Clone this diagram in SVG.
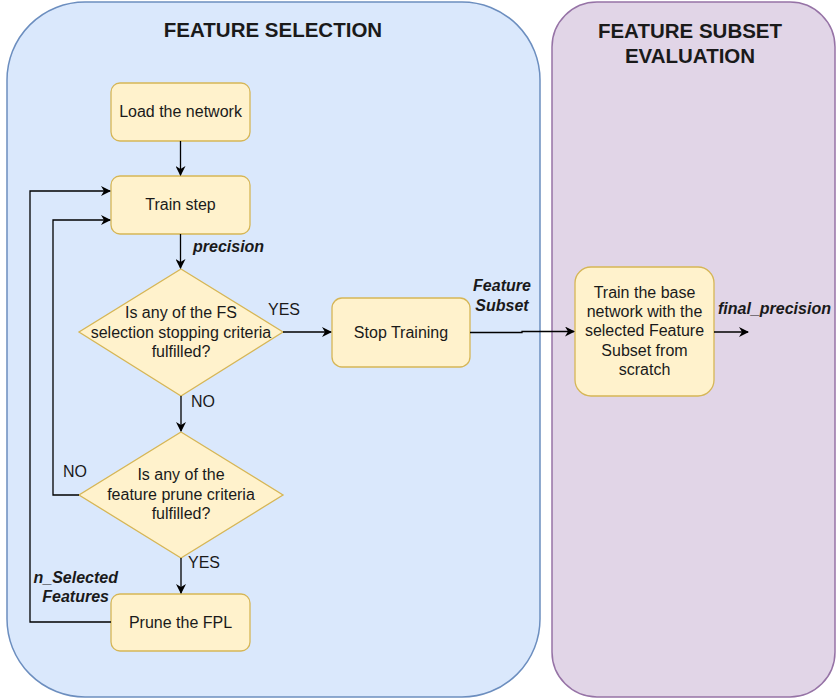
<svg xmlns="http://www.w3.org/2000/svg" width="837" height="699" viewBox="0 0 837 699">
  <defs>
    <marker id="arrow" viewBox="0 0 10 10" refX="9" refY="5" markerWidth="10" markerHeight="10" markerUnits="userSpaceOnUse" orient="auto">
      <path d="M0,0 L10,5 L0,10 L3,5 Z" fill="#000"/>
    </marker>
  </defs>
  <style>
    text { font-family: "Liberation Sans", Arial, sans-serif; fill: #1a1a1a; }
    .title { font-size: 20.5px; font-weight: bold; text-anchor: middle; }
    .node { font-size: 16px; text-anchor: middle; }
    .lbl { font-size: 16px; }
    .var { font-size: 16px; font-weight: bold; font-style: italic; }
    .box { fill: #fff2cc; stroke: #d6b656; stroke-width: 1.3; }
    .edge { fill: none; stroke: #000; stroke-width: 1.3; }
  </style>

  <!-- swimlane panels -->
  <g id="panel-selection">
    <rect x="7" y="2" width="533" height="695" rx="78" ry="78" fill="#dae8fc" stroke="#6c8ebf" stroke-width="1.5"/>
    <text class="title" x="273" y="37">FEATURE SELECTION</text>
  </g>
  <g id="panel-evaluation">
    <rect x="552" y="2" width="283" height="695" rx="45" ry="45" fill="#e1d5e7" stroke="#9673a6" stroke-width="1.5"/>
    <text class="title" x="690" y="38">FEATURE SUBSET</text>
    <text class="title" x="690" y="63">EVALUATION</text>
  </g>

  <!-- process nodes -->
  <g id="node-load">
    <rect class="box" x="111" y="83" width="139" height="58" rx="9"/>
    <text class="node" x="180.5" y="117">Load the network</text>
  </g>
  <g id="node-train">
    <rect class="box" x="111" y="176" width="139" height="58" rx="9"/>
    <text class="node" x="180.5" y="210">Train step</text>
  </g>
  <g id="node-stop-criteria">
    <polygon class="box" points="181,269 283,332 181,396 79,332"/>
    <text class="node" x="181" y="318">Is any of the FS</text>
    <text class="node" x="181" y="338">selection stopping criteria</text>
    <text class="node" x="181" y="357">fulfilled?</text>
  </g>
  <g id="node-stop-training">
    <rect class="box" x="332" y="298" width="138" height="69" rx="10"/>
    <text class="node" x="401" y="338">Stop Training</text>
  </g>
  <g id="node-prune-criteria">
    <polygon class="box" points="181,432 283,495 181,558 79,495"/>
    <text class="node" x="181" y="480">Is any of the</text>
    <text class="node" x="181" y="500">feature prune criteria</text>
    <text class="node" x="181" y="519">fulfilled?</text>
  </g>
  <g id="node-prune">
    <rect class="box" x="111" y="594" width="139" height="57" rx="9"/>
    <text class="node" x="180.5" y="628">Prune the FPL</text>
  </g>
  <g id="node-retrain">
    <rect class="box" x="575" y="267" width="139" height="129" rx="16"/>
    <text class="node" x="644.5" y="298">Train the base</text>
    <text class="node" x="644.5" y="317">network with the</text>
    <text class="node" x="644.5" y="336">selected Feature</text>
    <text class="node" x="644.5" y="356">Subset from</text>
    <text class="node" x="644.5" y="375">scratch</text>
  </g>

  <!-- connectors -->
  <g id="connectors">
    <path class="edge" d="M180.5,141 V175" marker-end="url(#arrow)"/>
    <path class="edge" d="M180.5,234 V268" marker-end="url(#arrow)"/>
    <path class="edge" d="M283,332 H331" marker-end="url(#arrow)"/>
    <path class="edge" d="M181,396 V431" marker-end="url(#arrow)"/>
    <path class="edge" d="M79,495 H53 V220 H110" marker-end="url(#arrow)"/>
    <path class="edge" d="M181,558 V593" marker-end="url(#arrow)"/>
    <path class="edge" d="M111,622 H30 V191 H110" marker-end="url(#arrow)"/>
    <path class="edge" d="M470,332.5 H522 V331.5 H574" marker-end="url(#arrow)"/>
    <path class="edge" d="M714,332 H748" marker-end="url(#arrow)"/>

    <text class="var" x="193" y="252">precision</text>
    <text class="lbl" x="268" y="315">YES</text>
    <text class="lbl" x="191" y="407">NO</text>
    <text class="lbl" x="63" y="477">NO</text>
    <text class="lbl" x="188" y="568">YES</text>
    <text class="var" x="118" y="583" text-anchor="end">n_Selected</text>
    <text class="var" x="109" y="602" text-anchor="end">Features</text>
    <text class="var" x="502" y="291" text-anchor="middle">Feature</text>
    <text class="var" x="502" y="311" text-anchor="middle">Subset</text>
    <text class="var" x="718" y="314">final_precision</text>
  </g>
</svg>
